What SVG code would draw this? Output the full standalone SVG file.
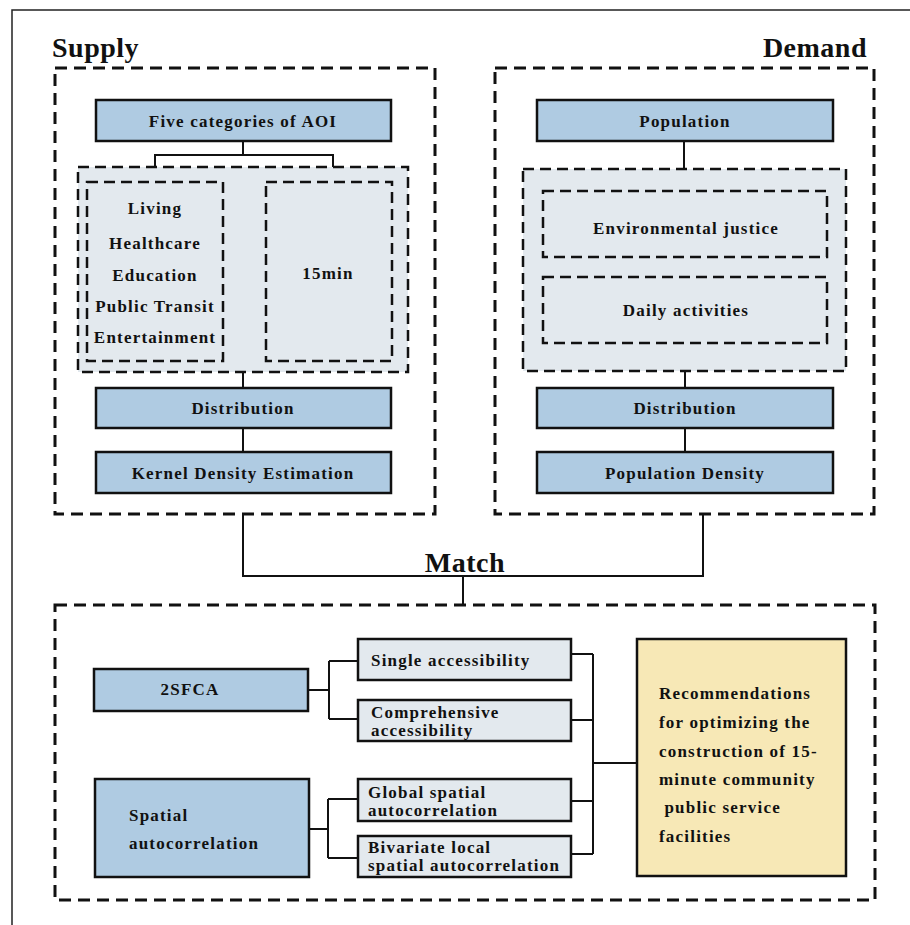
<svg xmlns="http://www.w3.org/2000/svg" width="910" height="925" viewBox="0 0 910 925">
<style>
  .t{font-family:"Liberation Serif","Times New Roman",serif;font-weight:bold;fill:#111;}
  .lbl{font-size:17px;letter-spacing:1.2px;text-anchor:middle;dominant-baseline:central;}
  .lft{font-size:17px;letter-spacing:1.2px;dominant-baseline:central;}
  .title{font-size:28px;letter-spacing:0.5px;}
  .blue{fill:#afcbe2;stroke:#111;stroke-width:2.5;}
  .gray{fill:#e3e9ee;stroke:#111;stroke-width:2.5;}
  .yellow{fill:#f7e8b6;stroke:#111;stroke-width:2.5;}
  .dash{fill:none;stroke:#111;stroke-width:3;stroke-dasharray:12 7;}
  .dashg{fill:#e3e9ee;stroke:#111;stroke-width:2.5;stroke-dasharray:11 6;}
  .dashi{fill:none;stroke:#111;stroke-width:2.5;stroke-dasharray:11 6;}
  .c{fill:none;stroke:#111;stroke-width:2;}
</style>
<rect x="0" y="0" width="910" height="925" fill="#fff"/>
<rect x="12" y="10" width="920" height="940" fill="none" stroke="#222" stroke-width="1.5"/>

<text class="t title" x="52" y="57">Supply</text>
<text class="t title" x="867" y="57" text-anchor="end">Demand</text>
<text class="t title" x="465" y="572" text-anchor="middle">Match</text>

<g id="supply-frame"><rect class="dash" x="55" y="68" width="380" height="446"/></g>
<g id="demand-frame"><rect class="dash" x="495" y="68" width="379" height="446"/></g>
<g id="match-frame"><rect class="dash" x="55" y="605" width="820" height="295"/></g>

<g id="connectors">
  <path class="c" d="M243 141V155M155 180V155H333V182"/>
  <path class="c" d="M223 273H266"/>
  <path class="c" d="M243 372V388M243 428V452"/>
  <path class="c" d="M684 141V169M685 371V388M685 428V452"/>
  <path class="c" d="M243 514V576H703V514M463 576V605"/>
  <path class="c" d="M308 690H329M329 661V719M329 661H358M329 719H358"/>
  <path class="c" d="M309 829H328M328 799V858M328 799H358M328 858H358"/>
  <path class="c" d="M571 654H593M571 720H593M571 801H593M571 854H593M593 654V854M593 763H637"/>
</g>

<g id="aoi"><rect class="blue" x="96" y="100" width="295" height="41"/><text class="t lbl" x="243" y="121">Five categories of AOI</text></g>
<g id="supply-group"><rect class="dashg" x="78" y="167" width="330" height="205"/></g>
<g id="categories"><rect class="dashi" x="87" y="182" width="136" height="179"/>
  <text class="t lbl" x="155" y="208">Living</text>
  <text class="t lbl" x="155" y="243">Healthcare</text>
  <text class="t lbl" x="155" y="275">Education</text>
  <text class="t lbl" x="155" y="306">Public Transit</text>
  <text class="t lbl" x="155" y="337">Entertainment</text>
</g>
<g id="min15"><rect class="dashi" x="266" y="182" width="126" height="179"/><text class="t lbl" x="328" y="273">15min</text></g>
<g id="s-distribution"><rect class="blue" x="96" y="388" width="295" height="40"/><text class="t lbl" x="243" y="408">Distribution</text></g>
<g id="kde"><rect class="blue" x="96" y="452" width="295" height="41"/><text class="t lbl" x="243" y="473">Kernel Density Estimation</text></g>

<g id="population"><rect class="blue" x="537" y="100" width="296" height="41"/><text class="t lbl" x="685" y="121">Population</text></g>
<g id="demand-group"><rect class="dashg" x="523" y="169" width="323" height="202"/></g>
<g id="env-justice"><rect class="dashi" x="543" y="191" width="284" height="66"/><text class="t lbl" x="686" y="228">Environmental justice</text></g>
<g id="daily"><rect class="dashi" x="543" y="277" width="284" height="66"/><text class="t lbl" x="686" y="310">Daily activities</text></g>
<g id="d-distribution"><rect class="blue" x="537" y="388" width="296" height="40"/><text class="t lbl" x="685" y="408">Distribution</text></g>
<g id="pop-density"><rect class="blue" x="537" y="452" width="296" height="41"/><text class="t lbl" x="685" y="473">Population Density</text></g>

<g id="sfca"><rect class="blue" x="94" y="669" width="214" height="42"/><text class="t lbl" x="190" y="689">2SFCA</text></g>
<g id="spatial"><rect class="blue" x="95" y="779" width="214" height="98"/><text class="t lft" x="129" y="815">Spatial</text><text class="t lft" x="129" y="843">autocorrelation</text></g>
<g id="single"><rect class="gray" x="358" y="639" width="213" height="41"/><text class="t lft" x="371" y="660">Single accessibility</text></g>
<g id="comprehensive"><rect class="gray" x="358" y="700" width="213" height="41"/><text class="t lft" x="371" y="712">Comprehensive</text><text class="t lft" x="371" y="730">accessibility</text></g>
<g id="global"><rect class="gray" x="358" y="779" width="213" height="42"/><text class="t lft" x="368" y="792">Global spatial</text><text class="t lft" x="368" y="810">autocorrelation</text></g>
<g id="bivariate"><rect class="gray" x="358" y="836" width="213" height="41"/><text class="t lft" x="368" y="847">Bivariate local</text><text class="t lft" x="368" y="865">spatial autocorrelation</text></g>
<g id="recommendations"><rect class="yellow" x="637" y="639" width="209" height="237"/>
  <text class="t lft" x="659" y="693">Recommendations</text>
  <text class="t lft" x="659" y="722">for optimizing the</text>
  <text class="t lft" x="659" y="751">construction of 15-</text>
  <text class="t lft" x="659" y="779">minute community</text>
  <text class="t lft" x="659" y="807" xml:space="preserve"> public service</text>
  <text class="t lft" x="659" y="836">facilities</text>
</g>
</svg>
